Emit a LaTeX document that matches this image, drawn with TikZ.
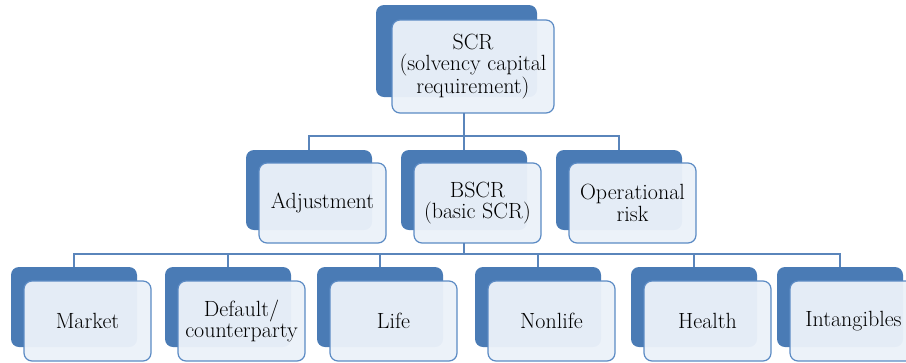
\documentclass[tikz,border=0pt]{standalone}
\usetikzlibrary{positioning}

\definecolor{darkbox}{HTML}{4A7BB5}
\definecolor{boxrim}{HTML}{5C8BC4}
\definecolor{paleface}{HTML}{EBF1F9}
\definecolor{wireblue}{HTML}{5A85BB}

\def\px{0.75pt}                         % one pixel of the layout

\tikzset{
  backbox/.style={fill=darkbox, rounded corners=6pt, inner sep=0pt,
    outer sep=0pt, anchor=north west,
    minimum width=126*\px, minimum height=80*\px},
  facebox/.style={draw=boxrim, line width=0.9pt, fill=paleface,
    fill opacity=0.96, text opacity=1, rounded corners=6pt, inner sep=0pt,
    outer sep=0pt, align=center, font=\fontsize{16.5}{16}\selectfont,
    minimum width=127*\px, minimum height=80*\px},
  wire/.style={draw=wireblue, line width=0.9pt}
}

\begin{document}
\begin{tikzpicture}[x=\px, y=-\px]
  \useasboundingbox (0,0) rectangle (906,362);

  % Top: SCR
  \node[backbox, minimum width=161*\px, minimum height=92*\px]
    (scr-back) at (376,5) {};
  \node[facebox, minimum width=162*\px, minimum height=93*\px,
    below right=15*\px and 16*\px of scr-back.north west]
    (scr) {SCR\\(solvency capital\\requirement)};

  % Middle row
  \node[backbox] (adj-back) at (246,150) {};
  \node[facebox, below right=13*\px and 13*\px of adj-back.north west]
    (adj) {Adjustment};
  \node[backbox] (bscr-back) at (401,150) {};
  \node[facebox, below right=13*\px and 13*\px of bscr-back.north west]
    (bscr) {BSCR\\(basic SCR)};
  \node[backbox] (op-back) at (556,150) {};
  \node[facebox, below right=13*\px and 13*\px of op-back.north west]
    (op) {Operational\\risk};

  % Bottom row
  \node[backbox] (market-back) at (11,267) {};
  \node[facebox, below right=14*\px and 13*\px of market-back.north west]
    (market) {Market};
  \node[backbox] (default-back) at (165,267) {};
  \node[facebox, below right=14*\px and 13*\px of default-back.north west]
    (default) {Default/\\counterparty};
  \node[backbox] (life-back) at (317,267) {};
  \node[facebox, below right=14*\px and 13*\px of life-back.north west]
    (life) {Life};
  \node[backbox] (nonlife-back) at (475,267) {};
  \node[facebox, below right=14*\px and 13*\px of nonlife-back.north west]
    (nonlife) {Nonlife};
  \node[backbox] (health-back) at (631,267) {};
  \node[facebox, below right=14*\px and 13*\px of health-back.north west]
    (health) {Health};
  \node[backbox] (intang-back) at (777,267) {};
  \node[facebox, below right=14*\px and 13*\px of intang-back.north west]
    (intang) {Intangibles};

  % Connectors
  \draw[wire] (scr.south -| bscr-back.north) -- (bscr-back.north);
  \draw[wire] (adj-back.north) -- ++(0,-14) -| (op-back.north);
  \draw[wire] (bscr.south -| bscr-back.south) -- ++(0,11);
  \draw[wire] (market-back.north) -- ++(0,-13) -| (intang-back.north);
  \draw[wire] (default-back.north) -- ++(0,-13);
  \draw[wire] (life-back.north) -- ++(0,-13);
  \draw[wire] (nonlife-back.north) -- ++(0,-13);
  \draw[wire] (health-back.north) -- ++(0,-13);
\end{tikzpicture}
\end{document}
